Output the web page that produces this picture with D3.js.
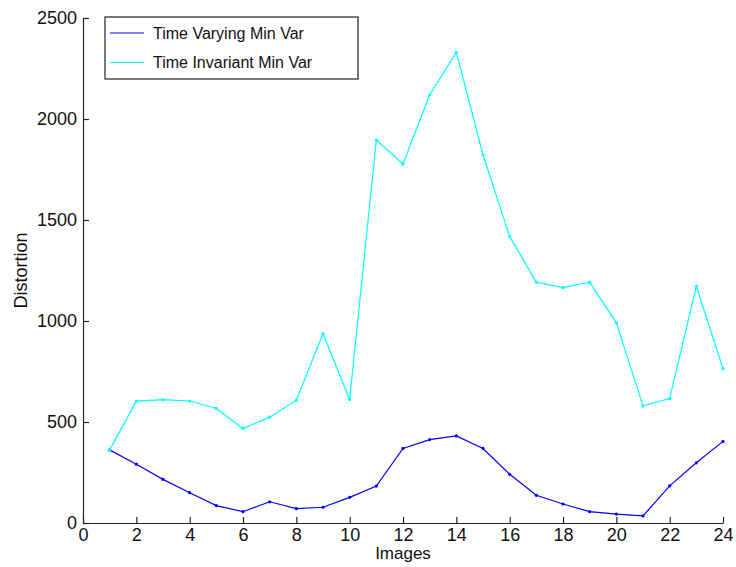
<!DOCTYPE html>
<html lang='en'>
  <head>
    <meta charset='utf-8'>
    <style>
      body { margin: 0; background: #fff; }
      svg { display: block; }
      .tick text { font-family: 'Liberation Sans', Arial, sans-serif; font-size: 18px; fill: #111; }
    </style>
  </head>
  <body>
    <div id='chart'></div>

    <script src='https://cdn.jsdelivr.net/npm/d3@7'></script>
    <script>
      // images 1..24
      var images = d3.range(1, 25);
      var timeVarying = [362, 291, 216, 150, 86, 56, 105, 71, 78, 127, 183, 369,
                         413, 431, 369, 241, 137, 94, 56, 44, 35, 184, 298, 404];
      var timeInvariant = [362, 603, 611, 604, 567, 468, 524, 608, 937, 611, 1896, 1777,
                           2120, 2329, 1823, 1418, 1192, 1165, 1192, 991, 580, 616, 1172, 764];
      var xTicks = d3.range(0, 25, 2);
      var yTicks = [0, 500, 1000, 1500, 2000, 2500];
      var seriesNames = ['Time Varying Min Var', 'Time Invariant Min Var'];
      var seriesColors = ['#0000ff', '#00ffff'];

      var width = 736, height = 567;
      var margin = {top: 18, right: 13, bottom: 44, left: 83};

      var svg = d3.select('#chart').append('svg')
          .attr('width', width)
          .attr('height', height);

      var x = d3.scaleLinear().domain([0, 24]).range([margin.left, width - margin.right]);
      var y = d3.scaleLinear().domain([0, 2500]).range([height - margin.bottom, margin.top]);

      svg.append('g')
          .attr('transform', 'translate(0,' + (height - margin.bottom) + ')')
          .call(d3.axisBottom(x).tickValues(xTicks).tickFormat(d3.format('d'))
            .tickSizeInner(-6).tickSizeOuter(0).tickPadding(5));
      svg.append('g')
          .attr('transform', 'translate(' + margin.left + ',0)')
          .call(d3.axisLeft(y).tickValues(yTicks).tickFormat(d3.format('d'))
            .tickSizeInner(-6).tickSizeOuter(0).tickPadding(6));

      svg.selectAll('.domain, .tick line').attr('stroke', '#222').attr('stroke-width', 1.2);

      var series = [timeVarying, timeInvariant];
      var line = d3.line()
          .x(function (d, i) { return x(images[i]); })
          .y(function (d) { return y(d); });

      series.forEach(function (vals, k) {
        svg.append('path')
            .datum(vals)
            .attr('fill', 'none')
            .attr('stroke', seriesColors[k])
            .attr('stroke-width', 1.2)
            .attr('d', line);
        svg.selectAll('.dot' + k)
            .data(vals)
          .enter().append('circle')
            .attr('class', 'dot' + k)
            .attr('cx', function (d, i) { return x(images[i]); })
            .attr('cy', function (d) { return y(d); })
            .attr('r', 1.6)
            .attr('fill', seriesColors[k]);
      });

      // axis labels
      svg.append('text')
          .attr('x', x(12))
          .attr('y', 559)
          .attr('text-anchor', 'middle')
          .style('font-family', "'Liberation Sans', Arial, sans-serif")
          .style('font-size', '17px')
          .attr('fill', '#111')
          .text('Images');
      svg.append('text')
          .attr('transform', 'translate(27,' + y(1250) + ') rotate(-90)')
          .attr('text-anchor', 'middle')
          .style('font-family', "'Liberation Sans', Arial, sans-serif")
          .style('font-size', '18px')
          .attr('fill', '#111')
          .text('Distortion');

      // legend
      var legend = svg.append('g').attr('transform', 'translate(105,17)');
      legend.append('rect')
          .attr('width', 253).attr('height', 62)
          .attr('fill', '#fff').attr('stroke', '#222').attr('stroke-width', 1.2);
      seriesNames.forEach(function (name, k) {
        var ly = 16 + k * 29.5;
        legend.append('line')
            .attr('x1', 5).attr('x2', 39)
            .attr('y1', ly).attr('y2', ly)
            .attr('stroke', seriesColors[k]).attr('stroke-width', 1.2);
        legend.append('text')
            .attr('x', 48).attr('y', ly + 5.5)
            .style('font-family', "'Liberation Sans', Arial, sans-serif")
            .style('font-size', '16px')
            .attr('fill', '#111')
            .text(name);
      });
    </script>
  </body>
</html>
